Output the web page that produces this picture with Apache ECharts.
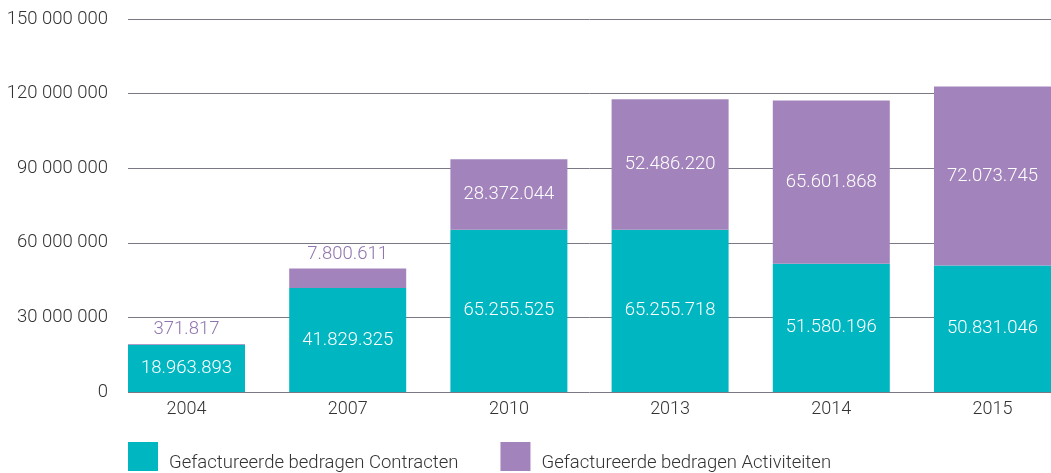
<!DOCTYPE html>
<html>
<head>
<meta charset="utf-8">
<script src="https://cdn.jsdelivr.net/npm/echarts@6/dist/echarts.min.js"></script>
<style>
  html, body { margin: 0; padding: 0; background: #fff; }
  #chart { width: 1051px; height: 473px; }
</style>
</head>
<body>
<div id="chart"></div>
<script>
const years = ['2004', '2007', '2010', '2013', '2014', '2015']
const contracten = [18963893, 41829325, 65255525, 65255718, 51580196, 50831046]
const activiteiten = [371817, 7800611, 28372044, 52486220, 65601868, 72073745]
const yTicks = { min: 0, max: 150000000, interval: 30000000 }

const teal = '#00b6c1'
const purple = '#a283bb'
const font = 'Roboto'

const dots = (v) => String(v).replace(/\B(?=(\d{3})+(?!\d))/g, '.')
const spaces = (v) => String(v).replace(/\B(?=(\d{3})+(?!\d))/g, ' ')

const chart = echarts.init(document.getElementById('chart'))

const activiteitenData = activiteiten.map((v) => {
  // small segments get their label above the bar, in purple
  if (v < 10000000) {
    return {
      value: v,
      label: { position: 'top', color: '#8f74ad', distance: 5 },
    }
  }
  return v
})

const barLabel = {
  show: true,
  position: 'inside',
  color: '#fff',
  fontSize: 18.5,
  fontFamily: font,
  fontWeight: 300,
  formatter: (p) => dots(p.value),
}

chart.setOption({
  animation: false,
  textStyle: { fontFamily: font, fontWeight: 300 },
  grid: [
    // grid lines and y labels
    { left: 128, right: 0, top: 19, bottom: 81 },
    // bars: first bar starts at the grid line start, last one ends at the edge
    { left: 186.5, right: 58.5, top: 19, bottom: 81 },
  ],
  xAxis: [
    { gridIndex: 0, type: 'category', data: years, show: false },
    {
      gridIndex: 1,
      type: 'category',
      data: years,
      boundaryGap: false,
      axisLine: { show: false },
      axisTick: { show: false },
      splitLine: { show: false },
      axisLabel: { color: '#333', fontSize: 18, margin: 8, fontFamily: font, fontWeight: 300 },
    },
  ],
  yAxis: [
    {
      gridIndex: 0,
      type: 'value',
      ...yTicks,
      axisLine: { show: false },
      axisTick: { show: false },
      axisLabel: { color: '#333', fontSize: 18.5, margin: 20, formatter: spaces, fontFamily: font, fontWeight: 300 },
      splitLine: { lineStyle: { color: '#7a7884', width: 1 } },
    },
    {
      gridIndex: 1,
      type: 'value',
      ...yTicks,
      show: false,
      splitLine: { show: false },
    },
  ],
  legend: {
    left: 128,
    top: 442,
    padding: 0,
    itemWidth: 30,
    itemHeight: 29,
    itemGap: 42,
    icon: 'rect',
    formatter: '{t|{name}}',
    textStyle: {
      color: '#333',
      fontSize: 18.5,
      fontFamily: font,
      fontWeight: 300,
      rich: {
        t: { color: '#333', fontSize: 18.5, fontFamily: font, fontWeight: 300, padding: [14, 0, 0, 6] },
      },
    },
    data: ['Gefactureerde bedragen Contracten', 'Gefactureerde bedragen Activiteiten'],
  },
  series: [
    {
      name: 'Gefactureerde bedragen Contracten',
      type: 'bar',
      stack: 'total',
      xAxisIndex: 1,
      yAxisIndex: 1,
      barWidth: 117,
      clip: false,
      itemStyle: { color: teal },
      label: barLabel,
      data: contracten,
    },
    {
      name: 'Gefactureerde bedragen Activiteiten',
      type: 'bar',
      stack: 'total',
      xAxisIndex: 1,
      yAxisIndex: 1,
      barWidth: 117,
      clip: false,
      itemStyle: { color: purple },
      label: barLabel,
      data: activiteitenData,
    },
  ],
})
</script>
</body>
</html>
